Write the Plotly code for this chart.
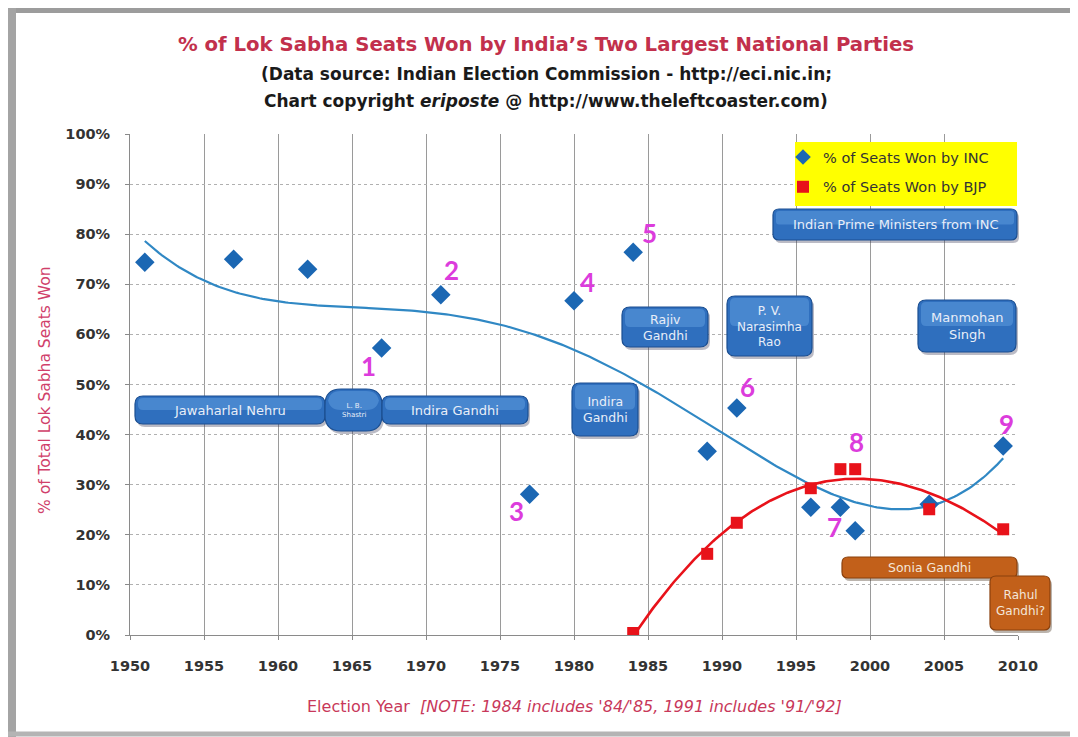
import numpy as np
import plotly.graph_objects as go

# ---------------- data ----------------
inc_years = [1951, 1957, 1962, 1967, 1971, 1977, 1980, 1984, 1989, 1991, 1996, 1998, 1999, 2004, 2009]
inc_pct = [74.4, 75.0, 73.0, 57.3, 67.9, 28.1, 66.7, 76.4, 36.7, 45.3, 25.5, 25.5, 20.8, 26.1, 37.7]

bjp_years = [1984, 1989, 1991, 1996, 1998, 1999, 2004, 2009]
bjp_pct = [0.4, 16.2, 22.4, 29.3, 33.1, 33.1, 25.1, 21.1]

marker_labels = ["1", "2", "3", "4", "5", "6", "7", "8", "9"]
marker_label_x = [1966.1, 1971.7, 1976.1, 1980.9, 1985.1, 1991.7, 1997.6, 1999.1, 2009.2]
marker_label_y = [53.7, 72.9, 24.8, 70.5, 80.2, 49.5, 21.6, 38.5, 42.1]

inc_pm_names = ["Jawaharlal Nehru", "L. B.<br>Shastri", "Indira Gandhi", "Indira<br>Gandhi",
                "Rajiv<br>Gandhi", "P. V.<br>Narasimha<br>Rao", "Manmohan<br>Singh",
                "Indian Prime Ministers from INC"]
family_names = ["Sonia Gandhi", "Rahul<br>Gandhi?"]

x_ticks = list(range(1950, 2011, 5))
y_ticks = list(range(0, 101, 10))

# ---------------- geometry (pixels of the screenshot) ----------------
OFF = 8                      # browser body margin
W, H = 1070, 729
PL, PR, PT, PB = 130, 1018, 134, 635   # plot area in screenshot px
FONT = "DejaVu Sans"


def px_x(px):
    return (px - PL) / (PR - PL)


def px_y(py):
    return (PB - py) / (PB - PT)


def rounded_rect_paper(x0, y0, x1, y1, r):
    X = px_x
    Y = px_y
    return (f"M {X(x0 + r)},{Y(y0)} L {X(x1 - r)},{Y(y0)} Q {X(x1)},{Y(y0)} {X(x1)},{Y(y0 + r)} "
            f"L {X(x1)},{Y(y1 - r)} Q {X(x1)},{Y(y1)} {X(x1 - r)},{Y(y1)} "
            f"L {X(x0 + r)},{Y(y1)} Q {X(x0)},{Y(y1)} {X(x0)},{Y(y1 - r)} "
            f"L {X(x0)},{Y(y0 + r)} Q {X(x0)},{Y(y0)} {X(x0 + r)},{Y(y0)} Z")


fig = go.Figure()

# polynomial trendlines fitted to the data (Excel-style)
xs = np.linspace(1951, 2009, 300)
ci = np.polyfit(np.array(inc_years, float) - 1980, np.array(inc_pct), 4)
fig.add_trace(go.Scatter(x=xs, y=np.polyval(ci, xs - 1980), mode="lines",
                         line=dict(color="#3088c4", width=2.2), showlegend=False, hoverinfo="skip"))

xs2 = np.linspace(1984, 2009, 200)
cb = np.polyfit(np.array(bjp_years, float) - 1995, np.array(bjp_pct), 3)
fig.add_trace(go.Scatter(x=xs2, y=np.polyval(cb, xs2 - 1995), mode="lines",
                         line=dict(color="#e8121a", width=2.6), showlegend=False, hoverinfo="skip"))

fig.add_trace(go.Scatter(x=inc_years, y=inc_pct, mode="markers", name="% of Seats Won by INC",
                         legendgroup="a",
                         marker=dict(symbol="diamond", size=15, color="#1b67b3", line=dict(width=0))))
fig.add_trace(go.Scatter(x=bjp_years, y=bjp_pct, mode="markers", name="% of Seats Won by BJP",
                         legendgroup="b",
                         marker=dict(symbol="square", size=12, color="#e8121a", line=dict(width=0))))

shapes = []
annotations = []


def ann(x, y, text, font, **kw):
    d = dict(x=x, y=y, xref="paper", yref="paper", text=text, showarrow=False,
             xanchor="center", yanchor="middle", font=font)
    d.update(kw)
    annotations.append(d)


# outer frame
shapes.append(dict(type="rect", xref="paper", yref="paper",
                   x0=px_x(12), x1=px_x(1073), y0=px_y(10), y1=px_y(733),
                   line=dict(color="#c8c8c8", width=2), layer="below"))
shapes.append(dict(type="line", xref="paper", yref="paper",
                   x0=px_x(8), x1=px_x(1078), y0=px_y(9), y1=px_y(9),
                   line=dict(color="#9c9c9c", width=8)))
shapes.append(dict(type="line", xref="paper", yref="paper",
                   x0=px_x(12), x1=px_x(12), y0=px_y(5), y1=px_y(737),
                   line=dict(color="#a4a4a4", width=8)))
shapes.append(dict(type="line", xref="paper", yref="paper",
                   x0=px_x(8), x1=px_x(1078), y0=px_y(734), y1=px_y(734),
                   line=dict(color="#b4b4b4", width=5)))

# legend background
shapes.append(dict(type="rect", xref="paper", yref="paper",
                   x0=px_x(795), x1=px_x(1017), y0=px_y(142), y1=px_y(206),
                   fillcolor="#ffff00", line=dict(width=0), layer="above"))

pm_boxes = [(135, 396, 325, 424), (325, 389, 382, 431), (382, 396, 528, 424), (572, 383, 638, 436),
            (622, 307, 708, 347), (727, 296, 812, 356), (918, 300, 1016, 352), (773, 209, 1017, 240)]
pm_sizes = [13, 7, 13, 12.5, 12.5, 12, 13, 13]
pm_radius = [8, 16, 8, 8, 8, 8, 8, 6]
for name, (x0, y0, x1, y1), fs, r in zip(inc_pm_names, pm_boxes, pm_sizes, pm_radius):
    shapes.append(dict(type="path", xref="paper", yref="paper",
                       path=rounded_rect_paper(x0 + 2, y0 + 3, x1 + 2, y1 + 3, r),
                       fillcolor="rgba(60,60,90,0.35)", line=dict(width=0), layer="above"))
    shapes.append(dict(type="path", xref="paper", yref="paper",
                       path=rounded_rect_paper(x0, y0, x1, y1, r),
                       fillcolor="#2f6fbe", line=dict(color="#1c4f91", width=1.2), layer="above"))
    shapes.append(dict(type="path", xref="paper", yref="paper",
                       path=rounded_rect_paper(x0 + 3, y0 + 2, x1 - 3, (y0 + y1) / 2, max(r - 3, 2)),
                       fillcolor="rgba(120,180,240,0.35)", line=dict(width=0), layer="above"))
    ann(px_x((x0 + x1) / 2), px_y((y0 + y1) / 2), name,
        dict(family=FONT, size=fs, color="#e8eef8"), align="center")

fam_boxes = [(842, 557, 1017, 578), (990, 576, 1050, 630)]
fam_sizes = [12.5, 12]
for name, (x0, y0, x1, y1), fs in zip(family_names, fam_boxes, fam_sizes):
    shapes.append(dict(type="path", xref="paper", yref="paper",
                       path=rounded_rect_paper(x0 + 2, y0 + 3, x1 + 2, y1 + 3, 6),
                       fillcolor="rgba(60,40,20,0.35)", line=dict(width=0), layer="above"))
    shapes.append(dict(type="path", xref="paper", yref="paper",
                       path=rounded_rect_paper(x0, y0, x1, y1, 6),
                       fillcolor="#c2601a", line=dict(color="#8a400c", width=1.2), layer="above"))
    ann(px_x((x0 + x1) / 2), px_y((y0 + y1) / 2), name,
        dict(family=FONT, size=fs, color="#f4e6d8"), align="center")

for t, x, y in zip(marker_labels, marker_label_x, marker_label_y):
    annotations.append(dict(x=x, y=y, xref="x", yref="y", text=f"<b>{t}</b>", showarrow=False,
                            xanchor="center", yanchor="middle",
                            font=dict(family="Lato", size=26, color="#dc3cdc")))

ann(px_x(546), px_y(45), "<b>% of Lok Sabha Seats Won by India’s Two Largest National Parties</b>",
    dict(family=FONT, size=19.7, color="#c2304c"))
ann(px_x(546), px_y(74), "<b>(Data source: Indian Election Commission - http://eci.nic.in;</b>",
    dict(family=FONT, size=17, color="#1a1a1a"))
ann(px_x(546), px_y(101), "<b>Chart copyright <i>eriposte</i> @ http://www.theleftcoaster.com)</b>",
    dict(family=FONT, size=17, color="#1a1a1a"))
ann(px_x(574), px_y(706), "Election Year  <i>[NOTE: 1984 includes '84/'85, 1991 includes '91/'92]</i>",
    dict(family=FONT, size=16, color="#c8385a"))
ann(px_x(45), px_y(390), "% of Total Lok Sabha Seats Won",
    dict(family=FONT, size=15.5, color="#d0406a"), textangle=-90)

fig.update_layout(
    width=W, height=H,
    margin=dict(l=PL - OFF, r=W - (PR - OFF), t=PT - OFF, b=H - (PB - OFF), autoexpand=False),
    paper_bgcolor="white", plot_bgcolor="white",
    shapes=shapes, annotations=annotations,
    showlegend=True,
    legend=dict(x=px_x(783), y=px_y(141), xanchor="left", yanchor="top",
                bgcolor="rgba(0,0,0,0)", borderwidth=0, traceorder="grouped",
                font=dict(family=FONT, size=14.5, color="#333333"),
                itemsizing="constant", tracegroupgap=8),
    xaxis=dict(range=[1950, 2010], tickvals=x_ticks, ticktext=[f"<b>{v}</b>" for v in x_ticks],
               showgrid=True, gridcolor="#9a9a9a", gridwidth=1,
               showline=True, linecolor="#8a8a8a", zeroline=False,
               ticks="outside", ticklen=4, tickcolor="#8a8a8a", ticklabelstandoff=14,
               tickfont=dict(family=FONT, size=14.5, color="#333333"),
               fixedrange=True),
    yaxis=dict(range=[0, 100], tickvals=y_ticks, ticktext=[f"<b>{v}%</b>" for v in y_ticks],
               showgrid=True, gridcolor="#b0b0b0", gridwidth=1, griddash="dot",
               showline=True, linecolor="#8a8a8a", zeroline=False,
               ticks="outside", ticklen=4, tickcolor="#8a8a8a", ticklabelstandoff=12,
               tickfont=dict(family=FONT, size=14.5, color="#333333"),
               fixedrange=True),
)

fig.write_html("out.html")
